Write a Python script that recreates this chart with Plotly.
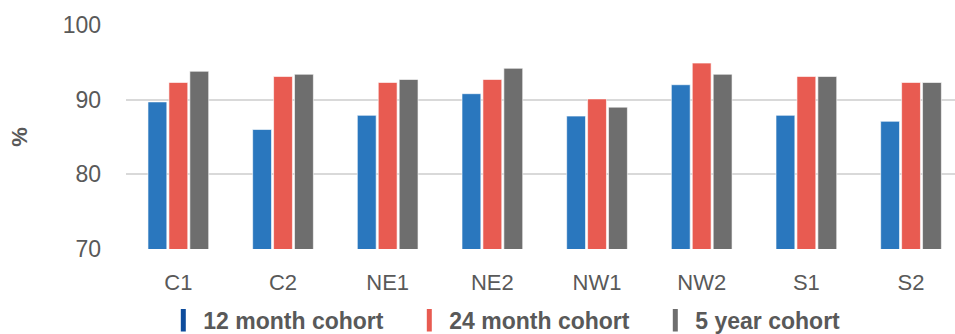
import plotly.graph_objects as go

categories = ["C1", "C2", "NE1", "NE2", "NW1", "NW2", "S1", "S2"]
cohort_12m = [89.7, 86.0, 87.9, 90.8, 87.8, 92.0, 87.9, 87.1]
cohort_24m = [92.3, 93.1, 92.3, 92.7, 90.1, 94.9, 93.1, 92.3]
cohort_5y = [93.8, 93.4, 92.7, 94.2, 89.0, 93.4, 93.1, 92.3]
series_names = ["12 month cohort", "24 month cohort", "5 year cohort"]
y_ticks = [70, 80, 90, 100]

colors = ["#2A77BE", "#E85B51", "#6E6E6E"]
legend_colors = ["#0E4C9C", "#E85B51", "#6E6E6E"]

fig = go.Figure()
for name, vals, c, lc in zip(series_names, [cohort_12m, cohort_24m, cohort_5y], colors, legend_colors):
    fig.add_trace(go.Bar(
        x=categories, y=vals, name=name,
        marker=dict(color=c, line=dict(color="rgba(255,255,255,0.6)", width=1)),
        showlegend=False,
    ))
    fig.add_trace(go.Scatter(
        x=[None], y=[None], mode="markers", name=f"<b>{name}</b>",
        marker=dict(symbol="line-ns", size=17, line=dict(color=lc, width=8)),
        showlegend=True,
    ))

font_family = "Liberation Sans, Arial, sans-serif"
fig.update_layout(
    width=955, height=334,
    margin=dict(l=126, r=0, t=25, b=85, autoexpand=False),
    plot_bgcolor="white", paper_bgcolor="white",
    barmode="group", bargap=0.40, bargroupgap=0.10,
    font=dict(family=font_family, color="#595959", size=22),
    xaxis=dict(
        range=[-0.5, 7.42], showgrid=False, showline=False, zeroline=False,
        tickfont=dict(size=22, color="#595959"), ticks="", ticklabelstandoff=18,
    ),
    yaxis=dict(
        range=[70, 100], tickvals=y_ticks, showgrid=True,
        gridcolor="#D9D9D9", gridwidth=2, zeroline=False, showline=False,
        tickfont=dict(size=23, color="#595959"), ticklabelstandoff=24,
        title=dict(text="<b>%</b>", font=dict(size=22, color="#595959"), standoff=28),
    ),
    legend=dict(
        orientation="h", x=0.045, xanchor="left", y=-0.318, yanchor="middle",
        font=dict(size=23, color="#595959", family=font_family),
        itemwidth=30, tracegroupgap=0, itemsizing="trace",
        entrywidth=201, entrywidthmode="pixels",
    ),
)

fig.write_html(
    "out.html",
    config={"displayModeBar": False},
    post_script="document.body.style.margin='0';document.body.style.overflow='hidden';",
)
